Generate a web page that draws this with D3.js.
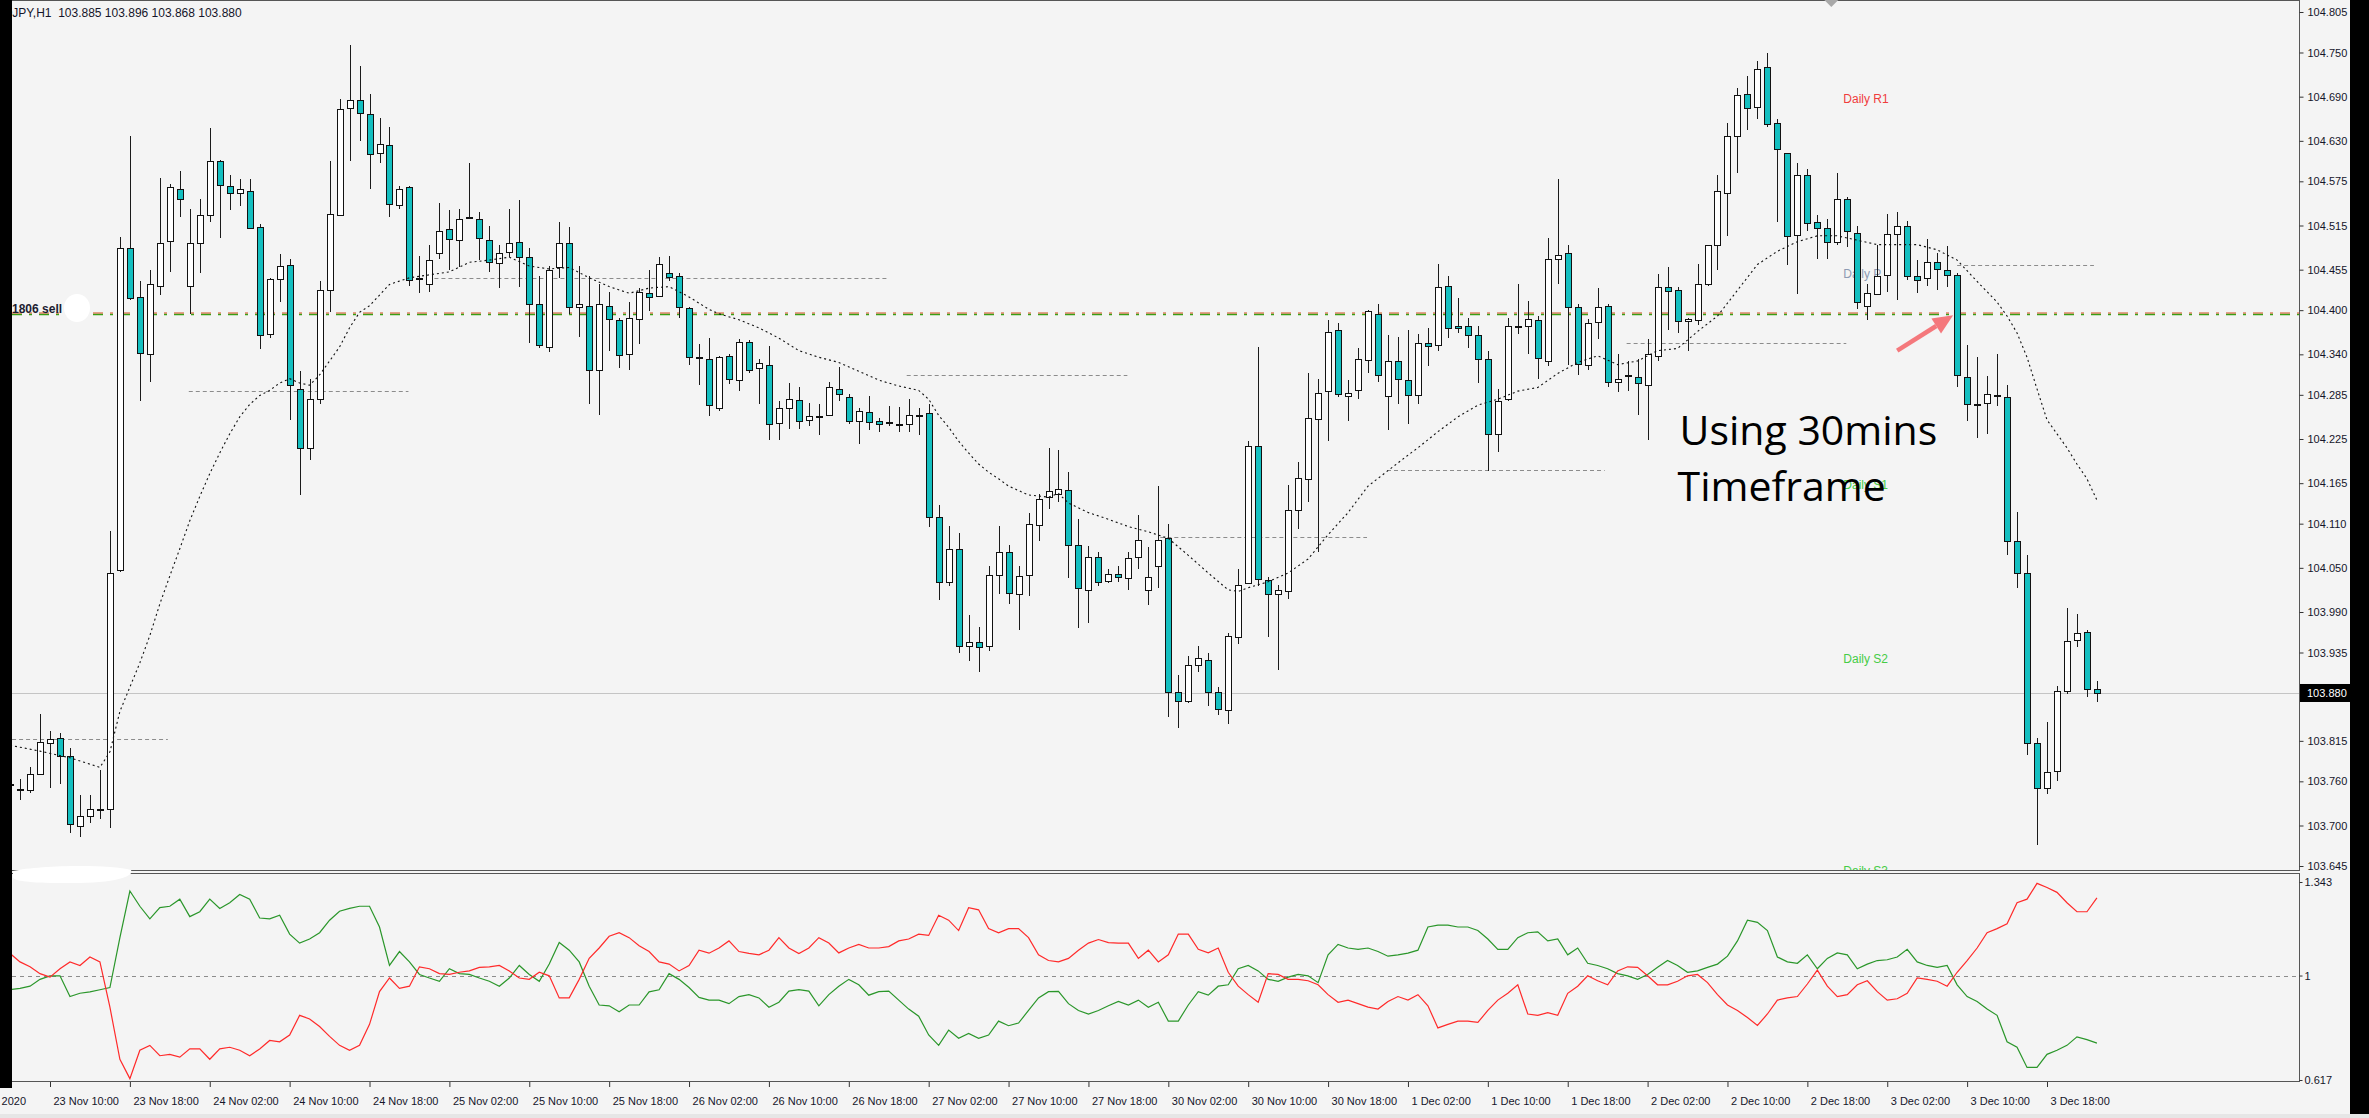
<!DOCTYPE html>
<html>
<head>
<meta charset="utf-8">
<script src="https://d3js.org/d3.v7.min.js"></script>
<style>
body { margin:0; background:#000; }
svg { display:block; }
</style>
</head>
<body>
<svg id="drawing_region"></svg>
<script>
// bar index of the first candle (0 = 23 Nov 10:00, one bar per hour)
const firstBar = -4;

const opens = [
103.756,103.749,103.748,103.770,103.812,103.819,103.795,103.699,103.714,103.722,
103.723,104.046,104.484,104.418,104.340,104.433,104.494,104.565,104.433,104.491,
104.529,104.603,104.569,104.560,104.562,104.513,104.367,104.442,104.461,104.293,
104.213,104.279,104.428,104.529,104.675,104.686,104.666,104.614,104.625,104.543,
104.567,104.443,104.435,104.477,104.510,104.496,104.525,104.524,104.495,104.465,
104.479,104.493,104.472,104.408,104.350,104.458,104.491,104.404,104.406,104.319,
104.406,104.386,104.340,104.388,104.423,104.419,104.450,104.446,104.403,104.336,
104.333,104.267,104.338,104.306,104.357,104.321,104.326,104.246,104.267,104.278,
104.250,104.255,104.257,104.293,104.282,104.249,104.262,104.249,104.247,104.246,
104.246,104.257,104.260,104.119,104.031,104.076,103.944,103.949,103.944,104.040,
104.071,104.015,104.040,104.109,104.146,104.150,104.156,104.081,104.020,104.065,
104.033,104.042,104.037,104.065,104.020,104.053,104.090,103.881,103.869,103.918,
103.925,103.881,103.858,103.956,104.029,104.216,104.034,104.015,104.018,104.128,
104.171,104.253,104.291,104.373,104.284,104.291,104.333,104.395,104.284,104.331,
104.305,104.284,104.356,104.353,104.433,104.378,104.378,104.366,104.334,104.232,
104.279,104.377,104.378,104.386,104.331,104.470,104.477,104.404,104.326,104.383,
104.406,104.303,104.311,104.309,104.298,104.338,104.432,104.427,104.385,104.386,
104.435,104.489,104.560,104.636,104.694,104.675,104.730,104.654,104.614,104.503,
104.583,104.520,104.512,104.493,104.551,104.505,104.406,104.423,104.447,104.503,
104.514,104.447,104.444,104.465,104.455,104.448,104.309,104.272,104.274,104.284,
104.282,104.086,104.043,103.812,103.751,103.775,103.883,103.952,103.963,103.885
];
const highs = [
103.763,103.763,103.779,103.852,103.829,103.826,103.805,103.742,103.742,103.775,
104.100,104.499,104.636,104.439,104.454,104.579,104.571,104.589,104.537,104.551,
104.647,104.604,104.584,104.578,104.578,104.517,104.444,104.476,104.470,104.317,
104.307,104.439,104.602,104.687,104.760,104.732,104.694,104.661,104.649,104.569,
104.569,104.474,104.489,104.546,104.536,104.537,104.600,104.534,104.515,104.489,
104.538,104.550,104.484,104.446,104.460,104.520,104.513,104.460,104.446,104.435,
104.425,104.389,104.411,104.430,104.455,104.472,104.474,104.451,104.404,104.354,
104.362,104.338,104.340,104.361,104.359,104.333,104.352,104.276,104.301,104.295,
104.274,104.272,104.303,104.323,104.286,104.267,104.284,104.253,104.270,104.268,
104.279,104.267,104.272,104.136,104.107,104.097,103.986,103.970,104.053,104.107,
104.081,104.053,104.125,104.150,104.213,104.210,104.180,104.116,104.079,104.072,
104.048,104.053,104.072,104.122,104.078,104.161,104.109,103.904,103.930,103.944,
103.935,103.888,103.961,104.048,104.222,104.350,104.037,104.027,104.163,104.194,
104.314,104.307,104.387,104.383,104.305,104.348,104.400,104.408,104.366,104.364,
104.373,104.367,104.376,104.463,104.446,104.416,104.389,104.378,104.345,104.293,
104.389,104.435,104.413,104.392,104.498,104.578,104.489,104.409,104.388,104.430,
104.408,104.340,104.331,104.333,104.361,104.449,104.458,104.432,104.389,104.463,
104.489,104.583,104.654,104.702,104.718,104.739,104.749,104.659,104.614,104.600,
104.592,104.529,104.524,104.586,104.554,104.515,104.435,104.489,104.531,104.534,
104.521,104.468,104.496,104.477,104.487,104.451,104.353,104.336,104.310,104.340,
104.298,104.126,104.067,103.819,103.841,103.890,103.996,103.987,103.966,103.896
];
const lows = [
103.748,103.735,103.744,103.769,103.751,103.756,103.690,103.685,103.704,103.709,
103.697,104.045,104.414,104.276,104.303,104.421,104.452,104.526,104.395,104.451,
104.520,104.498,104.536,104.541,104.510,104.347,104.362,104.411,104.251,104.149,
104.196,104.272,104.397,104.528,104.603,104.630,104.565,104.600,104.526,104.537,
104.433,104.423,104.425,104.470,104.454,104.458,104.524,104.468,104.452,104.430,
104.472,104.432,104.355,104.348,104.343,104.444,104.395,104.364,104.272,104.257,
104.345,104.321,104.319,104.354,104.399,104.418,104.439,104.389,104.326,104.298,
104.256,104.263,104.300,104.290,104.314,104.272,104.224,104.224,104.239,104.239,
104.243,104.230,104.256,104.277,104.246,104.218,104.237,104.234,104.243,104.235,
104.234,104.230,104.106,104.006,104.026,103.935,103.924,103.908,103.937,104.014,
104.001,103.965,104.012,104.086,104.130,104.140,104.036,103.968,103.975,104.026,
104.029,104.031,104.020,104.048,103.999,104.022,103.847,103.833,103.867,103.908,
103.862,103.850,103.838,103.947,104.028,104.026,103.956,103.911,104.008,104.103,
104.140,104.072,104.222,104.282,104.249,104.279,104.315,104.303,104.237,104.272,
104.246,104.272,104.324,104.345,104.362,104.369,104.348,104.301,104.182,104.208,
104.276,104.367,104.340,104.307,104.324,104.435,104.326,104.312,104.319,104.361,
104.295,104.289,104.290,104.257,104.224,104.331,104.373,104.369,104.345,104.380,
104.433,104.454,104.501,104.586,104.645,104.659,104.649,104.520,104.461,104.422,
104.507,104.470,104.470,104.489,104.486,104.402,104.386,104.421,104.425,104.414,
104.441,104.423,104.433,104.427,104.432,104.295,104.249,104.227,104.232,104.270,
104.067,104.022,103.796,103.673,103.743,103.760,103.878,103.942,103.875,103.868
];
const closes = [
103.757,103.749,103.770,103.814,103.817,103.795,103.702,103.713,103.723,103.723,
104.043,104.484,104.416,104.342,104.435,104.491,104.567,104.551,104.491,104.529,
104.603,104.571,104.559,104.565,104.512,104.366,104.442,104.460,104.298,104.213,
104.279,104.427,104.531,104.673,104.686,104.668,104.612,104.626,104.545,104.565,
104.441,104.444,104.468,104.507,104.496,104.524,104.526,104.498,104.465,104.478,
104.491,104.472,104.408,104.352,104.455,104.491,104.404,104.408,104.319,104.408,
104.388,104.338,104.389,104.425,104.418,104.463,104.444,104.404,104.336,104.335,
104.270,104.336,104.307,104.357,104.319,104.328,104.246,104.267,104.279,104.250,
104.256,104.256,104.295,104.286,104.249,104.263,104.249,104.245,104.248,104.246,
104.258,104.257,104.119,104.031,104.076,103.944,103.949,103.942,104.040,104.071,
104.015,104.039,104.109,104.144,104.154,104.157,104.081,104.022,104.065,104.031,
104.042,104.038,104.064,104.088,104.037,104.088,103.881,103.869,103.918,103.927,
103.881,103.858,103.958,104.027,104.215,104.036,104.015,104.020,104.128,104.172,
104.254,104.288,104.371,104.286,104.288,104.333,104.399,104.312,104.331,104.307,
104.284,104.355,104.352,104.432,104.376,104.375,104.366,104.334,104.232,104.277,
104.378,104.378,104.388,104.334,104.470,104.475,104.404,104.326,104.383,104.404,
104.303,104.307,104.312,104.301,104.340,104.432,104.426,104.385,104.388,104.435,
104.488,104.562,104.637,104.692,104.675,104.727,104.652,104.619,104.501,104.584,
104.518,104.512,104.493,104.551,104.507,104.411,104.423,104.447,104.503,104.514,
104.446,104.442,104.466,104.455,104.448,104.312,104.272,104.273,104.286,104.285,
104.086,104.043,103.812,103.751,103.773,103.883,103.951,103.961,103.885,103.880
];

// moving average (dotted), read at these bars
const maBars = [-4,-1,2,5,6,7,8,9,10,11,12,13,14,15,16,17,18,19,20,21,22,23,24,25,26,27,28,29,30,31,32,34,36,38,40,42,44,46,48,50,52,54,56,58,60,62,64,66,67,69,71,73,75,77,79,81,83,85,87,88,89,90,91,92,93,94,95,96,98,100,101,102,104,106,108,110,112,114,116,118,119,120,122,124,126,128,130,132,134,136,137,139,141,143,145,147,149,151,153,155,157,159,161,163,165,167,169,171,173,175,177,179,181,183,185,187,189,191,193,195,196,197,198,199,200,201,202,203,204,205];
const maValues = [103.809,103.801,103.792,103.779,103.800,103.855,103.888,103.921,103.958,104.001,104.039,104.076,104.114,104.147,104.178,104.206,104.232,104.255,104.272,104.284,104.291,104.301,104.307,104.301,104.298,104.312,104.331,104.350,104.376,104.397,104.406,104.435,104.444,104.448,104.452,104.465,104.468,104.472,104.460,104.456,104.458,104.444,104.432,104.423,104.430,104.432,104.418,104.401,104.395,104.387,104.376,104.362,104.345,104.336,104.329,104.317,104.305,104.297,104.291,104.279,104.257,104.241,104.222,104.206,104.191,104.180,104.171,104.161,104.149,104.146,104.151,104.138,104.125,104.116,104.106,104.099,104.090,104.067,104.043,104.020,104.018,104.023,104.031,104.043,104.062,104.095,104.125,104.161,104.182,104.203,104.213,104.235,104.255,104.271,104.279,104.290,104.295,104.314,104.329,104.338,104.326,104.331,104.345,104.348,104.371,104.392,104.427,104.462,104.480,104.493,104.501,104.501,104.495,104.489,104.489,104.489,104.482,104.468,104.439,104.411,104.392,104.369,104.336,104.293,104.251,104.232,104.213,104.191,104.171,104.142];

// daily pivot segments (bar extent and level)
const pivotStart = [-4.5, 13.9, 38.5, 85.8, 111.2, 133.9, 157.9, 191.0];
const pivotEnd   = [11.8, 35.9, 83.9, 107.9, 131.9, 155.7, 179.9, 204.7];
const pivotLevel = [103.817, 104.290, 104.444, 104.312, 104.092, 104.183, 104.356, 104.462];

const dailyNames  = ["Daily R1", "Daily P", "Daily S1", "Daily S2", "Daily S3"];
const dailyLevels = [104.687, 104.449, 104.163, 103.926, 103.638];
const dailyBar = 179.6;

const orderLevel = 104.396;
const lastPrice = 103.880;

// lower indicator, one value per bar from firstBar
const redLine = [
1.081,1.050,1.032,1.007,0.994,1.025,1.050,1.037,1.068,1.050,
0.884,0.693,0.622,0.726,0.744,0.706,0.711,0.701,0.731,0.731,
0.693,0.731,0.737,0.726,0.706,0.731,0.762,0.757,0.782,0.854,
0.841,0.813,0.777,0.744,0.726,0.744,0.821,0.941,0.991,0.953,
0.961,1.032,1.025,1.007,1.004,1.012,1.017,1.030,1.032,1.037,
1.017,0.991,0.986,1.012,0.999,0.918,0.918,0.986,1.063,1.101,
1.144,1.157,1.139,1.109,1.088,1.050,1.042,1.017,1.037,1.093,
1.082,1.101,1.127,1.088,1.081,1.076,1.093,1.139,1.101,1.081,
1.101,1.139,1.119,1.083,1.101,1.114,1.101,1.101,1.106,1.127,
1.134,1.152,1.147,1.221,1.203,1.165,1.249,1.241,1.172,1.157,
1.172,1.172,1.139,1.076,1.055,1.050,1.063,1.093,1.119,1.132,
1.121,1.119,1.119,1.063,1.093,1.050,1.076,1.152,1.152,1.096,
1.083,1.101,1.012,0.961,0.930,0.902,1.007,1.004,0.986,0.986,
0.981,0.966,0.930,0.902,0.910,0.897,0.884,0.877,0.905,0.923,
0.910,0.930,0.889,0.808,0.821,0.833,0.833,0.828,0.872,0.910,
0.935,0.966,0.859,0.854,0.864,0.854,0.935,0.961,0.999,0.981,
0.966,1.017,1.032,1.030,0.999,0.966,0.966,0.979,0.999,1.004,
0.974,0.930,0.892,0.872,0.846,0.817,0.859,0.910,0.918,0.923,
0.969,1.020,0.961,0.923,0.930,0.966,0.981,0.941,0.910,0.915,
0.935,0.991,0.986,0.979,0.961,1.012,1.055,1.101,1.157,1.172,
1.190,1.267,1.280,1.338,1.323,1.305,1.267,1.234,1.234,1.285
];
const greenLine = [
0.948,0.953,0.961,0.986,0.999,0.999,0.923,0.935,0.940,0.948,
0.956,1.139,1.310,1.254,1.208,1.249,1.254,1.280,1.216,1.234,
1.280,1.246,1.267,1.297,1.280,1.211,1.208,1.221,1.152,1.119,
1.134,1.157,1.203,1.236,1.246,1.254,1.254,1.178,1.037,1.088,
1.050,1.004,0.991,0.979,1.025,1.007,1.004,0.991,0.979,0.961,
0.991,1.037,1.004,0.979,1.042,1.121,1.093,1.050,0.961,0.892,
0.889,0.867,0.892,0.892,0.940,0.948,1.007,0.986,0.956,0.920,
0.910,0.910,0.897,0.923,0.930,0.918,0.884,0.902,0.943,0.948,
0.943,0.889,0.930,0.961,0.986,0.966,0.928,0.941,0.943,0.910,
0.877,0.851,0.782,0.744,0.800,0.770,0.788,0.770,0.782,0.833,
0.816,0.826,0.872,0.918,0.941,0.942,0.897,0.872,0.859,0.872,
0.889,0.905,0.892,0.910,0.884,0.902,0.833,0.833,0.892,0.941,
0.928,0.961,0.966,1.025,1.037,1.017,0.986,0.979,0.994,1.004,
0.999,0.974,1.076,1.114,1.101,1.096,1.101,1.088,1.071,1.076,
1.082,1.093,1.178,1.185,1.185,1.178,1.178,1.165,1.134,1.096,
1.096,1.139,1.157,1.160,1.127,1.134,1.076,1.101,1.045,1.037,
1.025,1.007,0.999,0.986,1.004,1.030,1.055,1.037,1.012,1.017,
1.030,1.042,1.071,1.127,1.203,1.195,1.165,1.068,1.050,1.045,
1.076,1.025,1.063,1.083,1.076,1.025,1.042,1.055,1.058,1.068,
1.096,1.050,1.037,1.030,1.037,0.966,0.923,0.905,0.877,0.854,
0.757,0.737,0.663,0.663,0.711,0.726,0.744,0.775,0.765,0.752
];

const priceTicks = [104.805,104.750,104.690,104.630,104.575,104.515,104.455,104.400,104.340,104.285,104.225,104.165,104.110,104.050,103.990,103.935,103.815,103.760,103.700,103.645];
const indicatorTicks = [1.343, 1, 0.617];
const timeTickBars = [-9,0,8,16,24,32,40,48,56,64,72,80,88,96,104,112,120,128,136,144,152,160,168,176,184,192,200];
const timeTickLabels = ["23 Nov 2020","23 Nov 10:00","23 Nov 18:00","24 Nov 02:00","24 Nov 10:00","24 Nov 18:00","25 Nov 02:00","25 Nov 10:00","25 Nov 18:00","26 Nov 02:00","26 Nov 10:00","26 Nov 18:00","27 Nov 02:00","27 Nov 10:00","27 Nov 18:00","30 Nov 02:00","30 Nov 10:00","30 Nov 18:00","1 Dec 02:00","1 Dec 10:00","1 Dec 18:00","2 Dec 02:00","2 Dec 10:00","2 Dec 18:00","3 Dec 02:00","3 Dec 10:00","3 Dec 18:00"];

class CandleChart {

    constructor( config ) {
        this.config = config;
        this.init();
    }

    init() {
        let self = this;
        const c = self.config;

        self.svg = d3.select( c.parent )
            .attr('width', c.width)
            .attr('height', c.height)
            .style('font-family', '"Liberation Sans", Arial, sans-serif');

        self.svg.append('rect')
            .attr('width', c.width).attr('height', c.height)
            .attr('fill', '#f4f4f4');

        self.xscale = d3.scaleLinear()
            .domain([0, 200])
            .range([50, 2047]);

        self.yscale = d3.scaleLinear()
            .domain([103.645, 104.805])
            .range([866, 12]);

        self.iscale = d3.scaleLinear()
            .domain([0.617, 1.343])
            .range([1080, 882]);

        const defs = self.svg.append('defs');
        defs.append('clipPath').attr('id', 'clip_main')
            .append('rect').attr('x', c.left).attr('y', c.mainTop)
            .attr('width', c.right - c.left).attr('height', c.mainBottom - c.mainTop);
        defs.append('clipPath').attr('id', 'clip_ind')
            .append('rect').attr('x', c.left).attr('y', c.indTop)
            .attr('width', c.right - c.left).attr('height', c.indBottom - c.indTop);

        self.main = self.svg.append('g').attr('clip-path', 'url(#clip_main)');
        self.ind = self.svg.append('g').attr('clip-path', 'url(#clip_ind)');

        self.bars = d3.range(opens.length).map(k => ({
            i: firstBar + k, o: opens[k], h: highs[k], l: lows[k], c: closes[k]
        }));
    }

    render() {
        let self = this;
        const c = self.config;
        const xs = self.xscale, ys = self.yscale, is = self.iscale;
        const px = v => Math.round(v) + 0.5;

        // pivot segments
        self.main.selectAll('line.pivot')
            .data(pivotLevel)
            .join('line')
            .attr('x1', (d, k) => xs(pivotStart[k]))
            .attr('x2', (d, k) => xs(pivotEnd[k]))
            .attr('y1', d => px(ys(d)))
            .attr('y2', d => px(ys(d)))
            .attr('stroke', '#8c8c8c')
            .attr('stroke-dasharray', '4,3');

        // last price line
        self.main.append('line')
            .attr('x1', c.left).attr('x2', c.right)
            .attr('y1', px(ys(lastPrice))).attr('y2', px(ys(lastPrice)))
            .attr('stroke', '#c4c4c4');

        // order line (dash-dot, red over green)
        const oy = Math.round(ys(orderLevel));
        self.main.append('line')
            .attr('x1', c.left).attr('x2', c.right)
            .attr('y1', oy + 1.5).attr('y2', oy + 1.5)
            .attr('stroke', '#3a9e14').attr('stroke-width', 1.6)
            .attr('stroke-dasharray', '10,7,3,7');
        self.main.append('line')
            .attr('x1', c.left).attr('x2', c.right)
            .attr('y1', oy).attr('y2', oy)
            .attr('stroke', '#d05020').attr('stroke-width', 1)
            .attr('stroke-dasharray', '10,7,3,7');

        // daily level labels
        const dailyColor = n => n.indexOf('R') > 0 ? '#f03c3c' : (n === 'Daily P' ? '#8d9bb3' : '#46cc46');
        self.main.selectAll('text.daily')
            .data(dailyNames)
            .join('text')
            .attr('x', xs(dailyBar))
            .attr('y', (d, k) => ys(dailyLevels[k]))
            .attr('dy', '0.35em')
            .attr('font-size', 12)
            .attr('fill', d => dailyColor(d))
            .text(d => d);

        // candles
        const candle = self.main.append('g').attr('shape-rendering', 'crispEdges');
        candle.selectAll('line')
            .data(self.bars)
            .join('line')
            .attr('x1', d => px(xs(d.i)))
            .attr('x2', d => px(xs(d.i)))
            .attr('y1', d => ys(d.h))
            .attr('y2', d => ys(d.l))
            .attr('stroke', '#1a1a1a')
            .attr('stroke-width', 1.6);
        candle.selectAll('rect')
            .data(self.bars)
            .join('rect')
            .attr('x', d => Math.round(xs(d.i)) - 2.5)
            .attr('width', 6)
            .attr('y', d => Math.round(ys(Math.max(d.o, d.c))) + 0.5)
            .attr('height', d => Math.max(1, Math.round(Math.abs(ys(d.o) - ys(d.c)))))
            .attr('fill', d => d.c >= d.o ? '#ffffff' : '#14bfc0')
            .attr('stroke', '#111')
            .attr('stroke-width', 1.2);

        // moving average
        const maLine = d3.line()
            .x((d, k) => xs(maBars[k]))
            .y(d => ys(d));
        self.main.append('path')
            .attr('d', maLine(maValues))
            .attr('fill', 'none')
            .attr('stroke', '#111')
            .attr('stroke-width', 1.1)
            .attr('stroke-dasharray', '2,3');

        // order label + erased blob
        self.main.append('text')
            .attr('x', 12).attr('y', oy - 4)
            .attr('dy', '0.35em')
            .attr('font-size', 12).attr('font-weight', 'bold')
            .attr('fill', '#1c1c30')
            .text('1806 sell');
        self.main.append('ellipse')
            .attr('cx', 77).attr('cy', oy - 5)
            .attr('rx', 13).attr('ry', 14)
            .attr('fill', '#ffffff');

        // annotation
        self.main.append('text')
            .attr('x', xs(163.2)).attr('y', ys(104.217))
            .attr('font-family', '"Open Sans", sans-serif')
            .attr('font-size', 41)
            .attr('fill', '#000')
            .text('Using 30mins');
        self.main.append('text')
            .attr('x', xs(163.0)).attr('y', ys(104.141))
            .attr('font-family', '"Open Sans", sans-serif')
            .attr('font-size', 41)
            .attr('fill', '#000')
            .text('Timeframe');

        // arrow
        const ax0 = xs(185), ay0 = ys(104.345), ax1 = xs(190.6), ay1 = ys(104.393);
        const ang = Math.atan2(ay1 - ay0, ax1 - ax0);
        const back = 20, wide = 9;
        const bx = ax1 - back * Math.cos(ang), by = ay1 - back * Math.sin(ang);
        self.main.append('line')
            .attr('x1', ax0).attr('y1', ay0).attr('x2', bx).attr('y2', by)
            .attr('stroke', '#f4787c').attr('stroke-width', 4.5);
        self.main.append('path')
            .attr('d', `M${ax1},${ay1} L${bx - wide * Math.sin(ang)},${by + wide * Math.cos(ang)} L${bx + wide * Math.sin(ang)},${by - wide * Math.cos(ang)} Z`)
            .attr('fill', '#f4787c');

        // indicator
        self.ind.append('line')
            .attr('x1', c.left).attr('x2', c.right)
            .attr('y1', px(is(1))).attr('y2', px(is(1)))
            .attr('stroke', '#8c8c8c')
            .attr('stroke-dasharray', '4,4');
        const indLine = d3.line()
            .x((d, k) => xs(firstBar + k))
            .y(d => is(d));
        self.ind.append('path')
            .attr('d', indLine(greenLine))
            .attr('fill', 'none').attr('stroke', '#2a962a').attr('stroke-width', 1.2);
        self.ind.append('path')
            .attr('d', indLine(redLine))
            .attr('fill', 'none').attr('stroke', '#ff2a2a').attr('stroke-width', 1.2);

        // panel borders
        self.svg.append('rect')
            .attr('x', c.left - 1).attr('y', c.mainTop - 0.5)
            .attr('width', c.right - c.left + 1.5).attr('height', c.mainBottom - c.mainTop)
            .attr('fill', 'none').attr('stroke', '#555');
        self.svg.append('rect')
            .attr('x', c.left - 1).attr('y', c.indTop + 0.5)
            .attr('width', c.right - c.left + 1.5).attr('height', c.indBottom - c.indTop)
            .attr('fill', 'none').attr('stroke', '#555');

        // blob over the indicator title
        self.svg.append('path')
            .attr('d', 'M13,871 C40,865 110,864 131,870 C135,877 112,884 62,883 C30,883 13,881 13,877 Z')
            .attr('fill', '#ffffff');

        // price axis
        const yaxis = d3.axisRight(ys)
            .tickValues(priceTicks)
            .tickFormat(d3.format('.3f'))
            .tickSize(4)
            .tickPadding(4);
        const yg = self.svg.append('g')
            .attr('transform', `translate(${c.right + 0.5},0)`)
            .call(yaxis);
        yg.select('.domain').remove();
        yg.selectAll('text').attr('font-size', 11).attr('fill', '#15152a').attr('font-family', '"Liberation Sans", Arial, sans-serif');
        yg.selectAll('line').attr('stroke', '#333');

        // last price tag
        self.svg.append('rect')
            .attr('x', c.right + 1).attr('y', ys(lastPrice) - 9)
            .attr('width', 52).attr('height', 18)
            .attr('fill', '#000');
        self.svg.append('text')
            .attr('x', c.right + 8).attr('y', ys(lastPrice))
            .attr('dy', '0.35em')
            .attr('font-size', 11).attr('fill', '#fff')
            .text(d3.format('.3f')(lastPrice));

        // indicator axis
        const iaxis = d3.axisRight(is)
            .tickValues(indicatorTicks)
            .tickFormat(d => d === 1 ? '1' : d3.format('.3f')(d))
            .tickSize(3)
            .tickPadding(2);
        const ig = self.svg.append('g')
            .attr('transform', `translate(${c.right + 0.5},0)`)
            .call(iaxis);
        ig.select('.domain').remove();
        ig.selectAll('text').attr('font-size', 11).attr('fill', '#15152a').attr('font-family', '"Liberation Sans", Arial, sans-serif');
        ig.selectAll('line').attr('stroke', '#333');

        // time axis
        const xaxis = d3.axisBottom(xs)
            .tickValues(timeTickBars)
            .tickFormat((d, k) => timeTickLabels[k])
            .tickSize(5)
            .tickPadding(10);
        const xg = self.svg.append('g')
            .attr('transform', `translate(0,${c.indBottom + 1})`)
            .call(xaxis);
        xg.select('.domain').remove();
        xg.selectAll('text')
            .attr('text-anchor', 'start')
            .attr('dx', 3)
            .attr('font-size', 11).attr('fill', '#15152a')
            .attr('font-family', '"Liberation Sans", Arial, sans-serif');
        xg.selectAll('line').attr('stroke', '#333');

        // header
        self.svg.append('text')
            .attr('x', -13).attr('y', 17)
            .attr('font-size', 12).attr('fill', '#15152a')
            .text('USDJPY,H1\u00a0\u00a0103.885 103.896 103.868 103.880');

        // chart shift marker
        self.svg.append('path')
            .attr('d', `M${xs(178.4) - 7},0 L${xs(178.4) + 7},0 L${xs(178.4)},7 Z`)
            .attr('fill', '#a8a8a8');

        // window edges
        self.svg.append('rect').attr('x', 0).attr('y', 0).attr('width', 12).attr('height', 1088).attr('fill', '#000');
        self.svg.append('rect').attr('x', 2350).attr('y', 0).attr('width', 19).attr('height', 1114).attr('fill', '#000');
        self.svg.append('rect').attr('x', 0).attr('y', 1114).attr('width', c.width).attr('height', 4).attr('fill', '#e6e6e6');
    }
}

const chart = new CandleChart({
    parent: '#drawing_region',
    width: 2369,
    height: 1118,
    left: 12,
    right: 2299,
    mainTop: 1,
    mainBottom: 871,
    indTop: 873,
    indBottom: 1081
});
chart.render();
</script>
</body>
</html>
